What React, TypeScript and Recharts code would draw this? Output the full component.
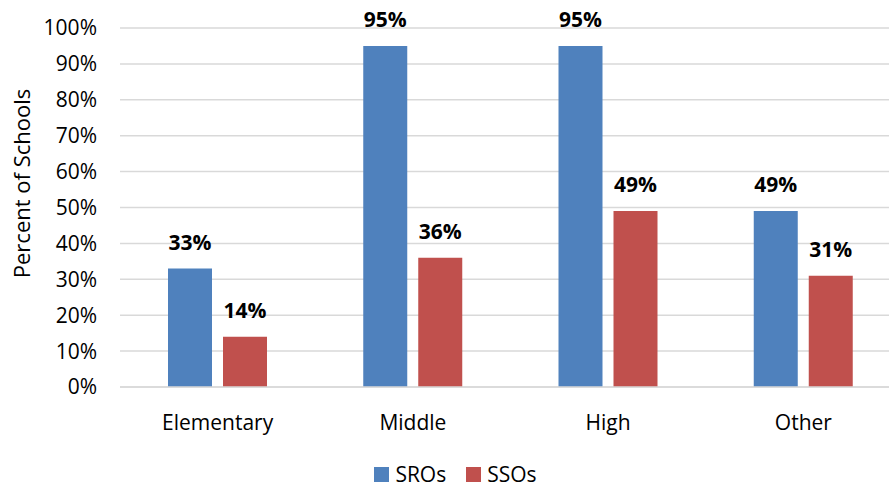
import { BarChart, Bar, XAxis, YAxis, CartesianGrid, Legend, LabelList } from 'recharts';

const categories = ['Elementary', 'Middle', 'High', 'Other'];
const sroValues = [33, 95, 95, 49];
const ssoValues = [14, 36, 49, 31];
const yTicks = [0, 10, 20, 30, 40, 50, 60, 70, 80, 90, 100];

const data = categories.map((name, i) => ({
  name,
  SROs: sroValues[i],
  SSOs: ssoValues[i],
}));

const FONT = '"Open Sans", sans-serif';
const GRID = '#d9d9d9';

const renderLegend = (props: any) => {
  const { payload } = props;
  return (
    <div style={{ display: 'flex', justifyContent: 'center', paddingLeft: 10, paddingTop: 27 }}>
      {payload.map((entry: any, i: number) => (
        <div key={entry.value} style={{ display: 'flex', alignItems: 'center', marginLeft: i ? 20 : 0 }}>
          <span style={{ width: 15, height: 15, background: entry.color, display: 'inline-block', marginRight: 6 }} />
          <span style={{ fontFamily: FONT, fontSize: 21, color: '#000', lineHeight: '16px' }}>{entry.value}</span>
        </div>
      ))}
    </div>
  );
};

const YLabel = (props: any) => {
  const { viewBox } = props;
  const cy = viewBox.y + viewBox.height / 2 - 24;
  return (
    <text
      x={30}
      y={cy}
      transform={`rotate(-90, 30, ${cy})`}
      textAnchor="middle"
      fontFamily={FONT}
      fontSize={22}
      fill="#000"
    >
      Percent of Schools
    </text>
  );
};

export default function App() {
  return (
    <div style={{ position: 'absolute', left: 0, top: 0, width: 889, height: 489, overflow: 'hidden', background: '#fff' }}>
      <BarChart
        width={901}
        height={489}
        data={data}
        margin={{ top: 28, right: 0, left: 0, bottom: 0 }}
        barSize={44}
        barGap={11}
      >
        <CartesianGrid vertical={false} stroke={GRID} strokeWidth={1.5} />
        <XAxis
          dataKey="name"
          height={52}
          axisLine={{ stroke: GRID, strokeWidth: 1.5 }}
          tickLine={false}
          tickSize={0}
          tickMargin={28}
          tick={{ fontFamily: FONT, fontSize: 21, fill: '#000' }}
        />
        <YAxis
          width={120}
          domain={[0, 100]}
          ticks={yTicks}
          interval={0}
          axisLine={false}
          tickLine={false}
          tickSize={0}
          tickMargin={23}
          tickFormatter={(v: number) => `${v}%`}
          tick={{ fontFamily: FONT, fontSize: 21, fill: '#000' }}
          label={<YLabel />}
        />
        <Legend
          verticalAlign="bottom"
          content={renderLegend}
          wrapperStyle={{ height: 50, boxSizing: 'border-box' }}
        />
        <Bar dataKey="SROs" fill="#4f81bd" isAnimationActive={false}>
          <LabelList
            dataKey="SROs"
            position="top"
            offset={19}
            formatter={(v: any) => `${v}%`}
            style={{ fontFamily: FONT, fontSize: 21, fontWeight: 700, fill: '#000' }}
          />
        </Bar>
        <Bar dataKey="SSOs" fill="#c0504d" isAnimationActive={false}>
          <LabelList
            dataKey="SSOs"
            position="top"
            offset={19}
            formatter={(v: any) => `${v}%`}
            style={{ fontFamily: FONT, fontSize: 21, fontWeight: 700, fill: '#000' }}
          />
        </Bar>
      </BarChart>
    </div>
  );
}
